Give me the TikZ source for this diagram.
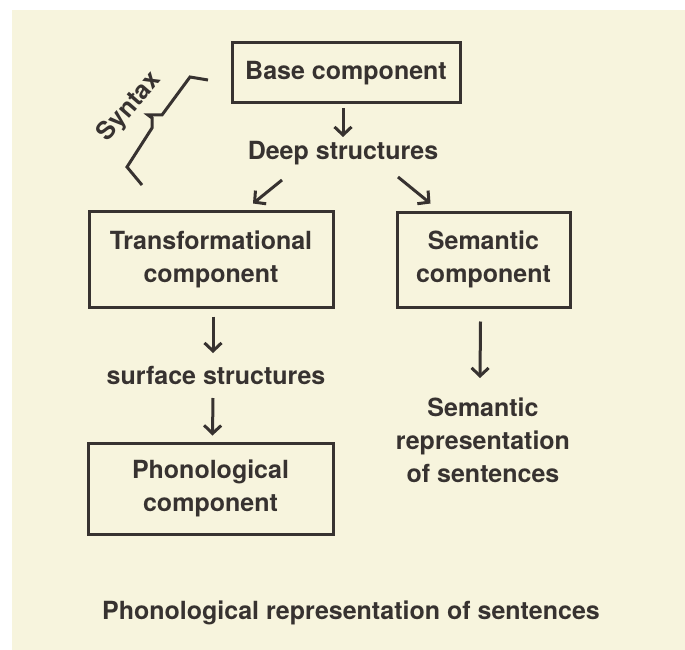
\documentclass[tikz,border=0pt]{standalone}
\usepackage{fontspec}
\setmainfont{TeX Gyre Heros}
\usetikzlibrary{arrows.meta}
\definecolor{paper}{RGB}{247,244,221}
\definecolor{ink}{RGB}{55,50,48}
\begin{document}
\begin{tikzpicture}[
      x=1pt, y=-1pt,
      every node/.style={font=\fontsize{25}{33}\selectfont\bfseries, text=ink},
      comp/.style={draw=ink, line width=3pt, align=center, inner sep=0pt},
      lbl/.style={align=center, inner sep=0pt},
      flow/.style={-{Straight Barb[length=8pt, width=17pt]}, draw=ink, line width=3pt}
    ]
    \useasboundingbox (0,0) rectangle (685,650);
    \fill[white] (0,0) rectangle (685,650);
    \fill[paper] (12,10) rectangle (685,650);

    \node[comp, minimum width=228pt, minimum height=60pt] (base) at (346,73) {Base component};
    \node[lbl] (deep) at (343,153) {Deep structures};
    \node[comp, minimum width=244pt, minimum height=96pt] (trans) at (211,259) {Transformational\\component};
    \node[comp, minimum width=173pt, minimum height=95pt] (sem) at (483.5,259.5) {Semantic\\component};
    \node[lbl] (surf) at (216,375) {surface structures};
    \node[comp, minimum width=245pt, minimum height=91pt] (phono) at (210.5,488.5) {Phonological\\component};
    \node[lbl] (semrep) at (483,440) {Semantic\\representation\\of sentences};
    \node[lbl, anchor=west] (phonorep) at (102,613) {Phonological representation of sentences};
    \node[lbl, rotate=49] (syntax) at (130,107) {Syntax};

    \draw[flow] ([shift={(-3,4)}]base.south) -- ([shift={(0,-16)}]deep.center);
    \draw[flow] ([shift={(-61,27)}]deep.center) -- ([shift={(42,-6)}]trans.north);
    \draw[flow] ([shift={(55,24)}]deep.center) -- ([shift={(-53,-7)}]sem.north);
    \draw[flow] ([shift={(2,8)}]trans.south) -- ([shift={(-3,-22)}]surf.center);
    \draw[flow] ([shift={(-3,23)}]surf.center) -- ([shift={(2,-6)}]phono.north);
    \draw[flow] ([shift={(-3,13)}]sem.south) -- ([shift={(-3,-62)}]semrep.center);

    % zigzag under Syntax
    \draw[ink, line width=3pt, line join=miter]
      (208,80) -- (190,77) -- (162,115) -- (148,115) -- (152,118) -- (152,128) -- (127,167) -- (142,185);
\end{tikzpicture}
\end{document}
